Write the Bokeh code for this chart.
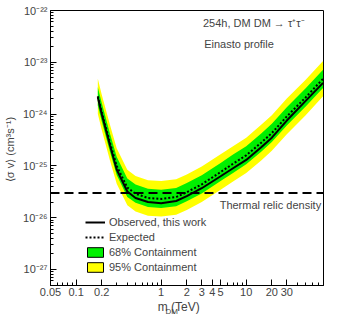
from bokeh.plotting import figure
from bokeh.models import (Span, Label, Legend, LegendItem, FixedTicker, Title,
                          CustomJSTickFormatter, ColumnDataSource)
from bokeh.embed import file_html
from bokeh.resources import INLINE

# ---- data ----
mass = [0.18, 0.2, 0.25, 0.3, 0.4, 0.5, 0.7, 1, 1.5, 2, 3, 5, 7, 10, 15, 20, 30, 50, 80]
observed = [2.1e-24, 1.0e-24, 2.5e-25, 8.5e-26, 3.2e-26, 2.4e-26, 2.0e-26, 1.9e-26, 2.1e-26,
            2.6e-26, 3.7e-26, 6.3e-26, 9.0e-26, 1.3e-25, 2.3e-25, 3.5e-25, 7.5e-25, 1.8e-24, 4.0e-24]
expected = [2.2e-24, 1.1e-24, 2.8e-25, 1.0e-25, 3.8e-26, 2.9e-26, 2.4e-26, 2.3e-26, 2.5e-26,
            3.1e-26, 4.4e-26, 7.6e-26, 1.1e-25, 1.6e-25, 2.8e-25, 4.3e-25, 9.0e-25, 2.1e-24, 4.8e-24]
green_lo = [1.47e-24, 7.3e-25, 1.87e-25, 6.7e-26, 2.5e-26, 1.93e-26, 1.6e-26, 1.53e-26, 1.67e-26,
            2.07e-26, 2.93e-26, 5.1e-26, 7.3e-26, 1.07e-25, 1.87e-25, 2.9e-25, 6.0e-25, 1.4e-24, 3.2e-24]
green_hi = [3.3e-24, 1.65e-24, 4.2e-25, 1.5e-25, 5.7e-26, 4.35e-26, 3.6e-26, 3.45e-26, 3.75e-26,
            4.65e-26, 6.6e-26, 1.14e-25, 1.65e-25, 2.4e-25, 4.2e-25, 6.5e-25, 1.35e-24, 3.15e-24, 7.2e-24]
yellow_lo = [1.0e-24, 5.0e-25, 1.27e-25, 4.5e-26, 1.73e-26, 1.32e-26, 1.09e-26, 1.05e-26, 1.14e-26,
             1.41e-26, 2.0e-26, 3.45e-26, 5.0e-26, 7.3e-26, 1.27e-25, 1.95e-25, 4.1e-25, 9.5e-25, 2.2e-24]
yellow_hi = [4.8e-24, 2.4e-24, 6.2e-25, 2.2e-25, 8.4e-26, 6.4e-26, 5.3e-26, 5.1e-26, 5.5e-26,
             6.8e-26, 9.7e-26, 1.67e-25, 2.4e-25, 3.5e-25, 6.2e-25, 9.5e-25, 2.0e-24, 4.6e-24, 1.06e-23]
thermal_relic = 3e-26

x_tick_vals = [0.05, 0.1, 0.2, 1, 2, 3, 4, 5, 10, 20, 30]
x_tick_labels = ["0.05", "0.1", "0.2", "1", "2", "3", "4", "5", "10", "20", "30"]
x_minor = [0.06, 0.07, 0.08, 0.09, 0.3, 0.4, 0.5, 0.6, 0.7, 0.8, 0.9,
           6, 7, 8, 9, 40, 50, 60, 70, 80]
y_tick_vals = [1e-27, 1e-26, 1e-25, 1e-24, 1e-23, 1e-22]
y_tick_labels = ["10⁻²⁷", "10⁻²⁶", "10⁻²⁵", "10⁻²⁴", "10⁻²³", "10⁻²²"]
y_minor = [k * 10.0 ** n for n in range(-28, -22) for k in range(2, 10)]

FONT = "Liberation Sans"

p = figure(width=325, height=316, x_axis_type="log", y_axis_type="log",
           x_range=(0.05, 81), y_range=(4.9e-28, 1e-22),
           output_backend="svg", toolbar_location=None,
           min_border_left=48, min_border_right=2, min_border_top=10, min_border_bottom=4)
p.xgrid.visible = False
p.ygrid.visible = False
p.outline_line_color = "black"
p.outline_line_width = 1

src = ColumnDataSource(dict(m=mass, obs=observed, exp=expected, glo=green_lo, ghi=green_hi,
                            ylo=yellow_lo, yhi=yellow_hi))

p.varea(x="m", y1="ylo", y2="yhi", source=src, fill_color="#ffff00")
p.varea(x="m", y1="glo", y2="ghi", source=src, fill_color="#00f000")
p.add_layout(Span(location=thermal_relic, dimension="width", line_color="black",
                  line_width=2, line_dash="9 5"))
r_exp = p.line(x="m", y="exp", source=src, line_color="black", line_width=2, line_dash="2 2")
r_obs = p.line(x="m", y="obs", source=src, line_color="black", line_width=2)

nan = float("nan")
r_g = p.quad(left=[nan], right=[nan], top=[nan], bottom=[nan], fill_color="#00f000", line_color="black")
r_y = p.quad(left=[nan], right=[nan], top=[nan], bottom=[nan], fill_color="#ffff00", line_color="black")

legend = Legend(items=[LegendItem(label="Observed, this work", renderers=[r_obs]),
                       LegendItem(label="Expected", renderers=[r_exp]),
                       LegendItem(label="68% Containment", renderers=[r_g]),
                       LegendItem(label="95% Containment", renderers=[r_y])],
                location=(35, 12), padding=0, margin=0, spacing=3,
                glyph_width=20, glyph_height=12, label_height=12, label_standoff=4,
                label_text_font=FONT, label_text_font_size="11px",
                border_line_alpha=0, background_fill_alpha=0)
p.add_layout(legend)

# axes
for ax in (p.xaxis[0], p.yaxis[0]):
    ax.major_tick_in = 6
    ax.major_tick_out = 0
    ax.minor_tick_in = 3
    ax.minor_tick_out = 0
    ax.major_label_text_font = FONT
    ax.major_label_text_font_size = "11px"
    ax.major_label_standoff = 3
    ax.axis_line_color = "black"

p.xaxis.ticker = FixedTicker(ticks=x_tick_vals, minor_ticks=x_minor)
p.xaxis.formatter = CustomJSTickFormatter(args=dict(vals=x_tick_vals, labs=x_tick_labels), code="""
const i = vals.findIndex(v => Math.abs(Math.log10(v) - Math.log10(tick)) < 1e-6);
return i >= 0 ? labs[i] : '';
""")
p.xaxis.major_label_standoff = 2
p.xaxis.axis_label = "m      (TeV)"
p.xaxis.axis_label_text_font = FONT
p.xaxis.axis_label_text_font_size = "12px"
p.xaxis.axis_label_text_font_style = "normal"
p.xaxis.axis_label_standoff = 1

p.yaxis.ticker = FixedTicker(ticks=y_tick_vals, minor_ticks=y_minor)
p.yaxis.formatter = CustomJSTickFormatter(args=dict(vals=y_tick_vals, labs=y_tick_labels), code="""
const i = vals.findIndex(v => Math.abs(Math.log10(v) - Math.log10(tick)) < 1e-6);
return i >= 0 ? labs[i] : '';
""")
p.yaxis.axis_label = "⟨σ v⟩  (cm³s⁻¹)"
p.yaxis.axis_label_text_font = FONT
p.yaxis.axis_label_text_font_size = "11px"
p.yaxis.axis_label_text_font_style = "normal"
p.yaxis.axis_label_standoff = 4

# subscript of the x-axis title
p.add_layout(Title(text="DM", text_font=FONT, text_font_size="8px", text_font_style="normal",
                   align="left", vertical_align="top", offset=115, standoff=-20), "below")

# texts
p.add_layout(Label(x=3.1, y=5.8e-23, text="254h, DM DM → τ⁺τ⁻", text_font=FONT,
                   text_font_size="11px", text_baseline="middle"))
p.add_layout(Label(x=3.2, y=2.3e-23, text="Einasto profile", text_font=FONT,
                   text_font_size="11px", text_baseline="middle"))
p.add_layout(Label(x=76, y=1.76e-26, text="Thermal relic density", text_font=FONT,
                   text_font_size="11px", text_baseline="middle", text_align="right"))

open("out.html", "w").write(file_html(p, INLINE))
